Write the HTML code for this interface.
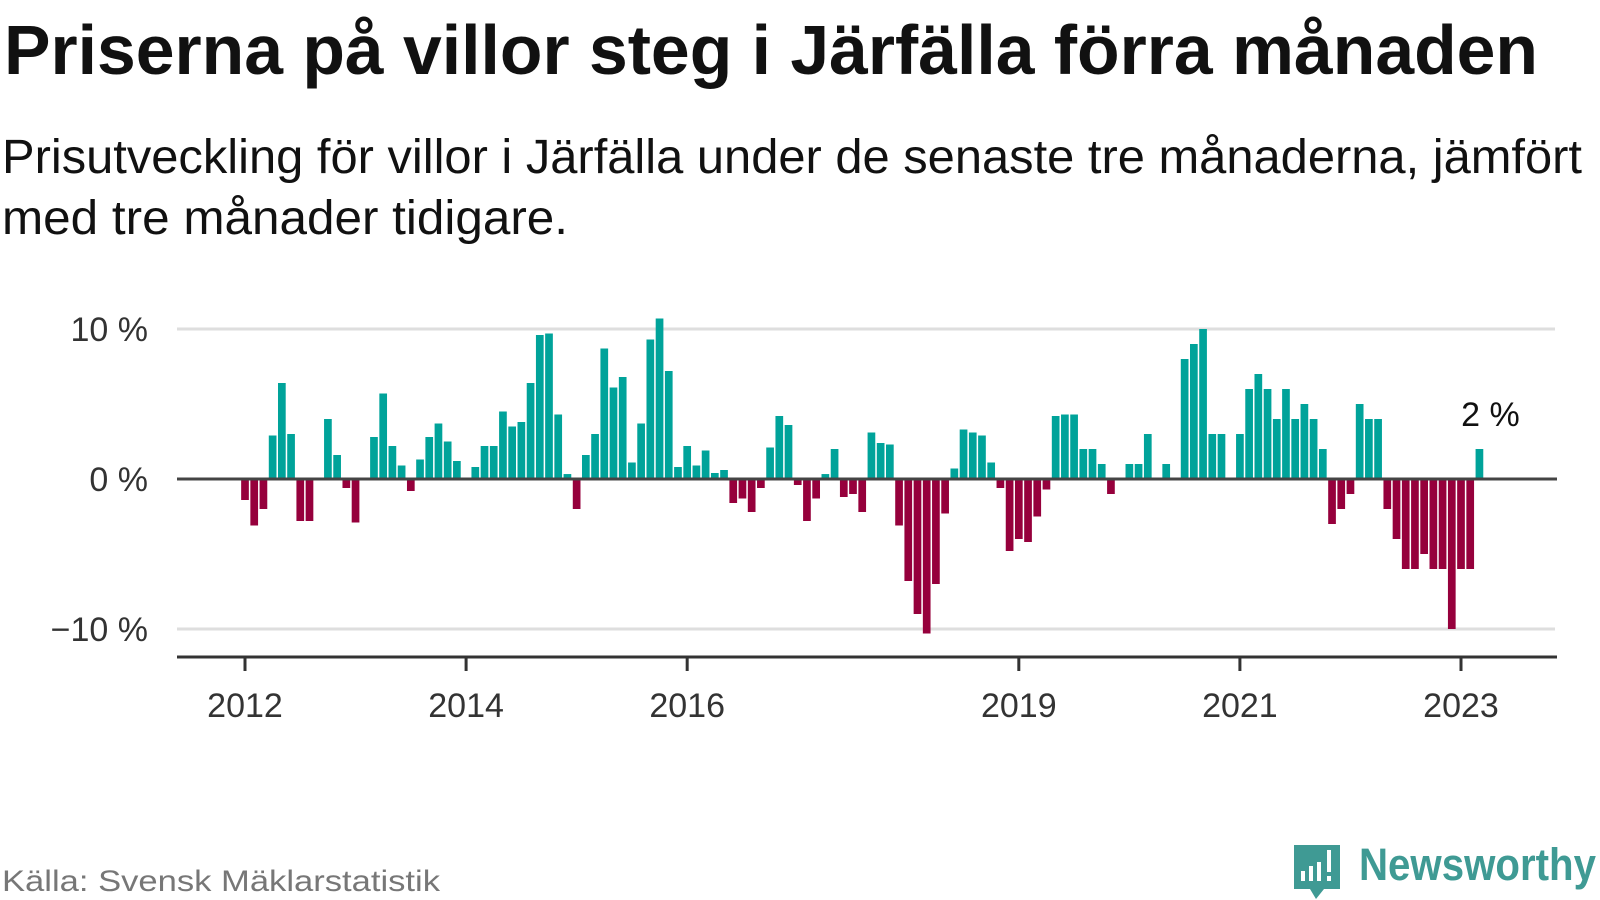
<!DOCTYPE html>
<html><head><meta charset="utf-8"><style>
html,body{margin:0;padding:0;background:#fff;width:1600px;height:900px;overflow:hidden}
svg{display:block}
text{font-family:"Liberation Sans",sans-serif}
</style></head><body>
<svg id="chart" width="1600" height="900" viewBox="0 0 1600 900">
<text x="4" y="74" font-size="70" font-weight="bold" fill="#111" textLength="1534" lengthAdjust="spacingAndGlyphs">Priserna på villor steg i Järfälla förra månaden</text>
<text x="2" y="173" font-size="48" fill="#111" textLength="1580" lengthAdjust="spacingAndGlyphs">Prisutveckling för villor i Järfälla under de senaste tre månaderna, jämfört</text>
<text x="2" y="234" font-size="48" fill="#111" textLength="566" lengthAdjust="spacingAndGlyphs">med tre månader tidigare.</text>
<g id="grid"></g>
<g id="bars"></g>
<g id="axes"></g>
<text x="2" y="891" font-size="30" fill="#777" textLength="438" lengthAdjust="spacingAndGlyphs">Källa: Svensk Mäklarstatistik</text>
<g>
<path d="M1294 845 h46 v44 h-16 l-8 10 l-6 -10 h-16 z" fill="#3f9a94"/>
<rect x="1301" y="871" width="4" height="10" fill="#fff"/><rect x="1309" y="866" width="4" height="15" fill="#fff"/><rect x="1317" y="862" width="4" height="19" fill="#fff"/><rect x="1327" y="850" width="4" height="22" fill="#fff"/><rect x="1327" y="876" width="4" height="5" fill="#fff"/>
<text x="1359" y="880" font-size="45" font-weight="bold" fill="#3f9a94" textLength="237" lengthAdjust="spacingAndGlyphs">Newsworthy</text>
</g>
</svg>
<script>
const values = [-1.4,-3.1,-2.0,2.9,6.4,3.0,-2.8,-2.8,0,4.0,1.6,-0.6,-2.9,0,2.8,5.7,2.2,0.9,-0.8,1.3,2.8,3.7,2.5,1.2,0,0.8,2.2,2.2,4.5,3.5,3.8,6.4,9.6,9.7,4.3,0.33,
-2.0,1.6,3.0,8.7,6.1,6.8,1.1,3.7,9.3,10.7,7.2,0.8,2.2,0.9,1.9,0.4,0.6,-1.6,-1.3,-2.2,-0.6,2.1,4.2,3.6,-0.4,-2.8,-1.3,0.33,2.0,-1.2,-1.0,-2.2,3.1,2.4,2.3,-3.1,
-6.8,-9.0,-10.3,-7.0,-2.3,0.7,3.3,3.1,2.9,1.1,-0.6,-4.8,-4.0,-4.2,-2.5,-0.7,4.2,4.3,4.3,2.0,2.0,1.0,-1.0,0,1.0,1.0,3.0,0,1.0,0,8.0,
9.0,10.0,3.0,3.0,0,3.0,6.0,7.0,6.0,4.0,6.0,4.0,5.0,4.0,2.0,-3.0,-2.0,-1.0,5.0,4.0,4.0,-2.0,-4.0,-6.0,-6.0,-5.0,-6.0,-6.0,-10.0,-6.0,-6.0,2.0];
const startYear = 2012;
const yTicks = [10, 0, -10];
const yTickLabels = ["10 %", "0 %", "\u221210 %"];
const xTickYears = [2012, 2014, 2016, 2019, 2021, 2023];
const lastLabel = "2 %";

const NS = "http://www.w3.org/2000/svg";
const x0 = 245, pxPerMonth = (1461 - 245) / 132;
function xScale(monthIndex){ return x0 + pxPerMonth * monthIndex; }
function yScale(v){ return 479 - v * 15; }
function mk(tag, attrs, parent){ const e = document.createElementNS(NS, tag); for (const k in attrs) e.setAttribute(k, attrs[k]); parent.appendChild(e); return e; }

const grid = document.getElementById('grid');
const bars = document.getElementById('bars');
const axes = document.getElementById('axes');

yTicks.forEach((t, i) => {
  if (t !== 0) {
    const l = mk('line', {x1:177, x2:1555, y1:yScale(t), y2:yScale(t), stroke:'#dedede', 'stroke-width':3}, grid);
    
    
  }
  const tx = mk('text', {x:148, y:yScale(t)+12, 'font-size':34, fill:'#333', 'text-anchor':'end'}, axes);
  tx.textContent = yTickLabels[i];
  
  
});

const bw = 7.7;
values.forEach((v, i) => {
  if (v === 0) return;
  const y = v > 0 ? yScale(v) : yScale(0);
  const h = Math.abs(yScale(v) - yScale(0));
  const r = mk('rect', {x:xScale(i)-bw/2, y:y, width:bw, height:h, fill: v > 0 ? '#00a39a' : '#96003c'}, bars);
  
  
});

const zl = mk('line', {x1:177, x2:1557, y1:yScale(0), y2:yScale(0), stroke:'#444', 'stroke-width':3}, axes);


const xa = mk('line', {x1:177, x2:1557, y1:657, y2:657, stroke:'#333', 'stroke-width':3}, axes);



xTickYears.forEach(yr => {
  const x = xScale((yr - startYear) * 12);
  const tk = mk('line', {x1:x, x2:x, y1:657, y2:671, stroke:'#333', 'stroke-width':3}, axes);
  
  
  const tx = mk('text', {x:x, y:717, 'font-size':34, fill:'#333', 'text-anchor':'middle'}, axes);
  tx.textContent = String(yr);
  
  
});

const li = values.length - 1;
const lab = mk('text', {x:xScale(li)+11, y:yScale(values[li]) - 23, 'font-size':34, fill:'#111', 'text-anchor':'middle'}, axes);
lab.textContent = lastLabel;


</script>
</body></html>
